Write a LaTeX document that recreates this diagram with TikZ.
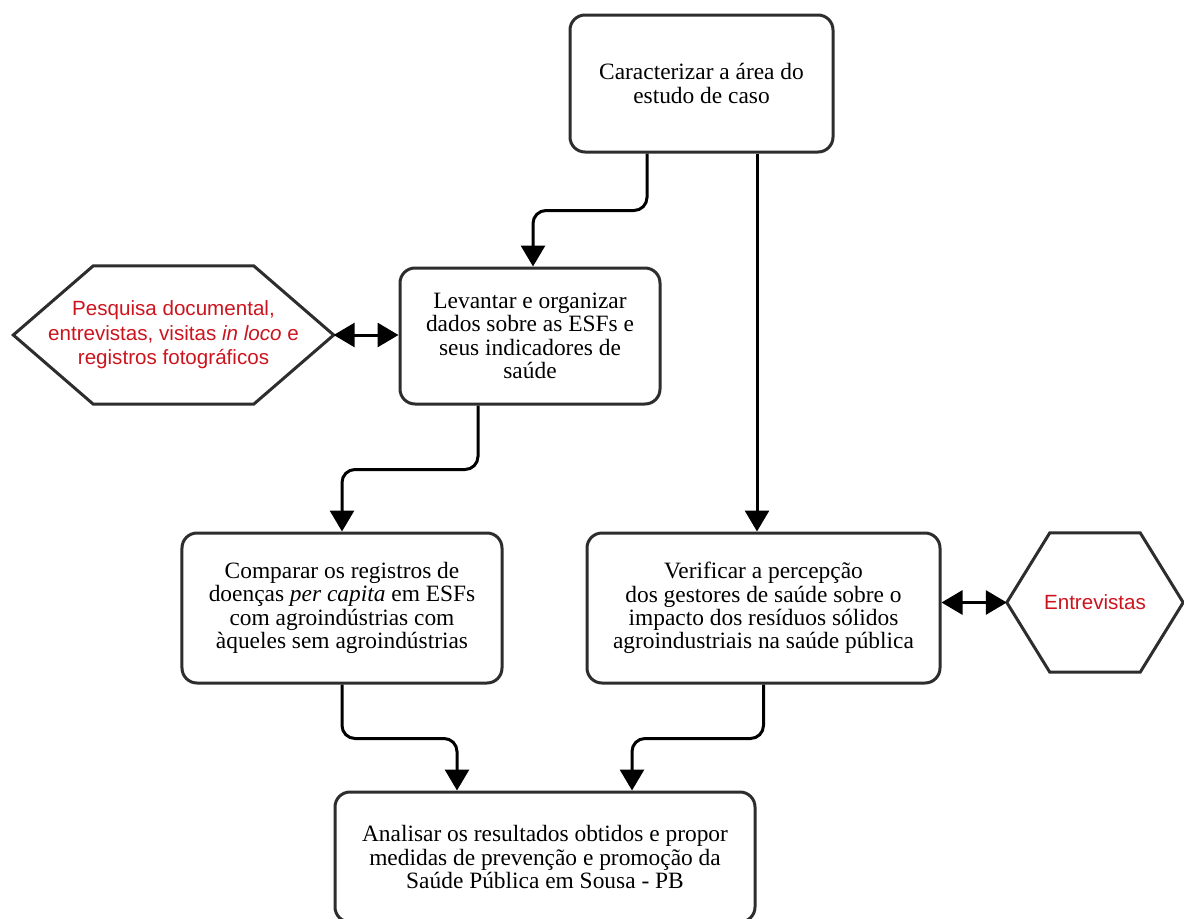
\documentclass[tikz,border=0pt]{standalone}
\usepackage{fontspec}
\setmainfont{Liberation Serif}
\newfontfamily\arial{Liberation Sans}
\usepackage{tikz}
\usetikzlibrary{calc,arrows.meta}
\usepackage{xcolor}
\definecolor{vermelho}{RGB}{204,20,30}
\definecolor{borda}{RGB}{45,45,45}

\tikzset{
	etapa/.style={draw=borda, line width=3bp, rounded corners=15bp, align=center,
		inner sep=0pt, font=\fontsize{23.4bp}{23.3bp}\selectfont},
	fonte/.style={align=center, inner sep=0pt, text=vermelho,
		font=\arial\fontsize{20.6bp}{24.5bp}\selectfont},
	seta/.style={line width=3bp, rounded corners=13bp, -{Triangle[width=24bp,length=21bp]}},
	dupla/.style={line width=3bp, {Triangle[width=24bp,length=21bp]}-{Triangle[width=24bp,length=21bp]}}
}

\begin{document}
\begin{tikzpicture}[x=1bp, y=-1bp]
			\useasboundingbox (0,0) rectangle (1184,919);
			% etapas
			\node[etapa, minimum width=263bp, minimum height=137bp] (carac) at (701.5,83.5)
				{Caracterizar a área do\\estudo de caso};
			\node[etapa, minimum width=260bp, minimum height=136bp] (levant) at (530,336)
				{Levantar e organizar\\dados sobre as ESFs e\\seus indicadores de\\saúde};
			\node[etapa, minimum width=320bp, minimum height=150bp] (compar) at (342,608)
				{Comparar os registros de\\doenças \textit{per capita} em ESFs\\com agroindústrias com\\àqueles sem agroindústrias};
			\node[etapa, minimum width=353bp, minimum height=150bp] (verif) at (763.5,608)
				{Verificar a percepção\\dos gestores de saúde sobre o\\impacto dos resíduos sólidos\\agroindustriais na saúde pública};
			\node[etapa, minimum width=420bp, minimum height=130bp] (analis) at (545,857)
				{Analisar os resultados obtidos e propor\\medidas de prevenção e promoção da\\Saúde Pública em Sousa - PB};
			% fontes (hexagonos)
			\node[fonte, minimum width=320bp, minimum height=138bp] (pesq) at (173.5,335)
				{Pesquisa documental,\\entrevistas, visitas \textit{in loco} e\\registros fotográficos};
			\draw[borda, line width=3bp] (pesq.west) -- ([xshift=80bp]pesq.north west) -- ([xshift=-80bp]pesq.north east)
				-- (pesq.east) -- ([xshift=-80bp]pesq.south east) -- ([xshift=80bp]pesq.south west) -- cycle;
			\node[fonte, minimum width=176bp, minimum height=139bp] (entrev) at (1095,602.5) {Entrevistas};
			\draw[borda, line width=3bp] (entrev.west) -- ([xshift=43bp]entrev.north west) -- ([xshift=-43bp]entrev.north east)
				-- (entrev.east) -- ([xshift=-43bp]entrev.south east) -- ([xshift=43bp]entrev.south west) -- cycle;
			% ligacoes
			\draw[seta] ([xshift=-54.5bp]carac.south) -- ++(0,57) -| ([xshift=3bp]levant.north);
			\draw[seta] ([xshift=55.5bp]carac.south) -- ([xshift=55.5bp]carac.south |- verif.north);
			\draw[seta] ([xshift=-52bp]levant.south) -- ++(0,64) -| (compar.north);
			\draw[seta] (compar.south) -- ++(0,54) -| ([xshift=-88bp]analis.north);
			\draw[seta] (verif.south) -- ++(0,54) -| ([xshift=87bp]analis.north);
			\draw[dupla] (pesq.east) -- (pesq.east -| levant.west);
			\draw[dupla] (entrev.west -| verif.east) -- (entrev.west);
\end{tikzpicture}
\end{document}
